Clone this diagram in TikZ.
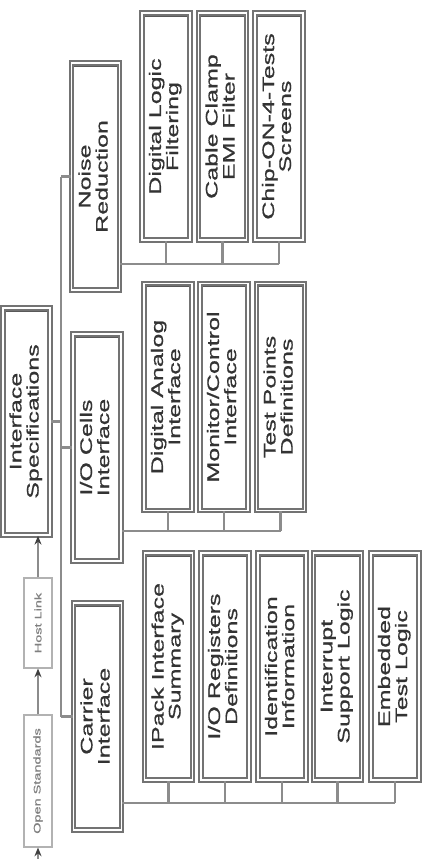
\documentclass[tikz,border=0pt]{standalone}
\usepackage{graphicx}
\usepackage{fontspec}
\newfontfamily\boxfont[FakeStretch=1.5,FakeBold=0.8]{Liberation Sans}
\usetikzlibrary{arrows.meta}
\newcommand{\vtext}[1]{\rotatebox{90}{\begin{tabular}{@{}c@{}}#1\end{tabular}}}
\tikzset{
  box/.style={draw=black!55,line width=1pt,double=white,double distance=1.1pt,fill=white,
    inner sep=0pt,minimum width=0.96cm,minimum height=4.54cm,text=black!80,
    font=\boxfont\fontsize{9.5}{9.6}\selectfont,
    path picture={\draw[black!65,line width=4pt](path picture bounding box.north west)--(path picture bounding box.north east);}},
  tag/.style={draw=black!30,line width=0.6pt,fill=white,inner sep=0pt,minimum width=0.56cm,
    text=black!50,font=\boxfont\fontsize{5.5}{6}\selectfont},
  link/.style={draw=black!45,line width=1.2pt},
  arr/.style={draw=black!45,line width=0.8pt,-{Stealth[length=5pt,width=4pt,black!75]}}
}
\begin{document}
\begin{tikzpicture}[x=0.02cm,y=-0.02cm]
\useasboundingbox[fill=white](0,0)rectangle(425,859);
%main boxes
\node[box,minimum width=0.94cm](root) at (26.5,421.5){\vtext{Interface\\Specifications}};
\node[box](noise) at (95.5,176.5){\vtext{Noise\\Reduction}};
\node[box](io) at (97,447.5){\vtext{I/O Cells\\Interface}};
\node[box](carrier) at (97.5,716.5){\vtext{Carrier\\Interface}};
%noise reduction
\node[box](nr1) at (166,126.5){\vtext{Digital Logic\\Filtering}};
\node[box](nr2) at (222.5,126.5){\vtext{Cable Clamp\\EMI Filter}};
\node[box](nr3) at (279,126.5){\vtext{Chip-ON-4-Tests\\Screens}};
%i/o cells
\node[box](io1) at (168,397){\vtext{Digital Analog\\Interface}};
\node[box](io2) at (224,397){\vtext{Monitor/Control\\Interface}};
\node[box](io3) at (280.5,397){\vtext{Test Points\\Definitions}};
%carrier
\node[box](cr1) at (168.5,666.5){\vtext{IPack Interface\\Summary}};
\node[box](cr2) at (225,666.5){\vtext{I/O Registers\\Definitions}};
\node[box](cr3) at (282,666.5){\vtext{Identification\\Information}};
\node[box](cr4) at (337.5,666.5){\vtext{Interrupt\\Support Logic}};
\node[box](cr5) at (395,666.5){\vtext{Embedded\\Test Logic}};
%inputs
\node[tag,minimum height=1.8cm](host) at (38,623){\rotatebox{90}{Host Link}};
\node[tag,minimum height=2.64cm](open) at (38,781){\rotatebox{90}{Open Standards}};
%bus
\coordinate(bus) at (61,0);
\draw[link](root.east)--(bus|-root.east);
\draw[link](bus|-noise)--(bus|-carrier);
\draw[link](bus|-noise)--(noise);
\draw[link](bus|-io)--(io);
\draw[link](bus|-carrier)--(carrier);
%noise links
\draw[link](nr1.south)--++(0,23)coordinate(nb);
\draw[link](nr2.south)--(nr2.south|-nb);
\draw[link](nr3.south)--(nr3.south|-nb);
\draw[link](noise.east|-nb)--(nr3.south|-nb);
%i/o links
\draw[link](io1.south)--++(0,20)coordinate(ib);
\draw[link](io2.south)--(io2.south|-ib);
\draw[link](io3.south)--(io3.south|-ib);
\draw[link](io.east|-ib)--(io3.south|-ib);
%carrier links
\draw[link](cr1.south)--++(0,22)coordinate(cb);
\draw[link](cr2.south)--(cr2.south|-cb);
\draw[link](cr3.south)--(cr3.south|-cb);
\draw[link](cr4.south)--(cr4.south|-cb);
\draw[link](cr5.south)--(cr5.south|-cb);
\draw[link](carrier.east|-cb)--(cr5.south|-cb);
%arrows
\coordinate(src) at (38,859);
\draw[arr](src)--(open.south);
\draw[arr](open.north)--(host.south);
\draw[arr](host.north)--(host.north|-root.south);
\end{tikzpicture}
\end{document}
